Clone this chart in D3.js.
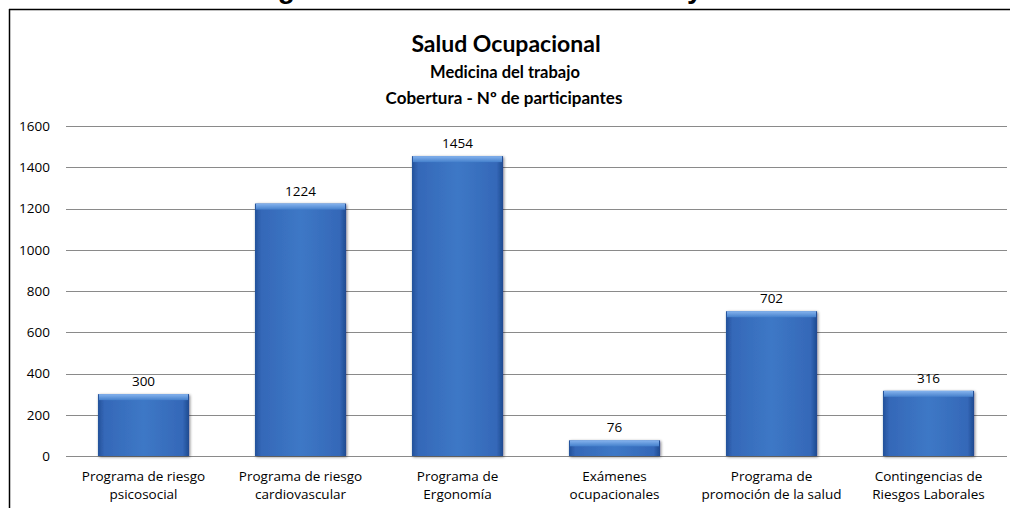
<!DOCTYPE html>
<html>
<head>
    <meta charset="utf-8"/>
    <style>
        body{ margin:0; background:#fff; }
        text{ fill:#000; }
        .tick-label, .val-label, .cat-label{
            font-family: "Open Sans", sans-serif;
            font-size: 13.5px;
        }
        .title{
            font-family: Lato, "Open Sans", sans-serif;
            font-weight: bold;
        }
        .grid line{ stroke:#8a8a8a; stroke-width:1.2; }
    </style>
</head>
<body>
<svg id="graph"></svg>

<script src="https://d3js.org/d3.v7.min.js"></script>
<script>
    // data
    const categories = [
        ['Programa de riesgo', 'psicosocial'],
        ['Programa de riesgo', 'cardiovascular'],
        ['Programa de', 'Ergonomía'],
        ['Exámenes', 'ocupacionales'],
        ['Programa de', 'promoción de la salud'],
        ['Contingencias de', 'Riesgos Laborales']
    ];
    const values = [300, 1224, 1454, 76, 702, 316];
    const yTicks = [0, 200, 400, 600, 800, 1000, 1200, 1400, 1600];

    var width = 1010, height = 508;
    var plotLeft = 65, plotRight = 1007, plotTop = 126, plotBottom = 456;

    var svg = d3.select('#graph')
        .attr('width', width)
        .attr('height', height);

    // gradients for the bevelled bars
    var defs = svg.append('defs');
    var hg = defs.append('linearGradient').attr('id', 'barH')
        .attr('x1', '0').attr('x2', '1').attr('y1', '0').attr('y2', '0');
    hg.append('stop').attr('offset', '0').attr('stop-color', '#23519a');
    hg.append('stop').attr('offset', '0.07').attr('stop-color', '#3568b8');
    hg.append('stop').attr('offset', '0.5').attr('stop-color', '#3d78c6');
    hg.append('stop').attr('offset', '0.93').attr('stop-color', '#3568b8');
    hg.append('stop').attr('offset', '1').attr('stop-color', '#1f4a90');
    var tg = defs.append('linearGradient').attr('id', 'barTop')
        .attr('x1', '0').attr('x2', '0').attr('y1', '0').attr('y2', '1');
    tg.append('stop').attr('offset', '0').attr('stop-color', '#86b4ee');
    tg.append('stop').attr('offset', '1').attr('stop-color', '#4580cc');
    var sh = defs.append('filter').attr('id', 'shadow')
        .attr('x', '-20%').attr('y', '-20%').attr('width', '140%').attr('height', '140%');
    sh.append('feGaussianBlur').attr('in', 'SourceAlpha').attr('stdDeviation', 1.5).attr('result', 'b');
    sh.append('feOffset').attr('in', 'b').attr('dx', 1).attr('dy', 1).attr('result', 'o');
    sh.append('feComponentTransfer').attr('in', 'o').attr('result', 'o2')
        .append('feFuncA').attr('type', 'linear').attr('slope', 0.5);
    var merge = sh.append('feMerge');
    merge.append('feMergeNode').attr('in', 'o2');
    merge.append('feMergeNode').attr('in', 'SourceGraphic');

    // heading above the chart frame, cut off by the page top as in the picture
    svg.append('text')
        .attr('class', 'title')
        .attr('x', 231).attr('y', -2)
        .style('font-family', '"Liberation Sans", Arial, sans-serif')
        .style('font-size', '28px')
        .text('Programa de Medicina Preventiva y Laboral');

    // frame (only top and left visible)
    svg.append('line').attr('x1', 9).attr('x2', width).attr('y1', 9.5).attr('y2', 9.5)
        .attr('stroke', '#000').attr('stroke-width', 1.5);
    svg.append('line').attr('x1', 9.5).attr('x2', 9.5).attr('y1', 9).attr('y2', height)
        .attr('stroke', '#000').attr('stroke-width', 1.5);

    // titles
    function title(txt, cx, y, size){
        svg.append('text').attr('class', 'title')
            .attr('x', cx).attr('y', y)
            .attr('text-anchor', 'middle')
            .style('font-size', size + 'px')
            .text(txt);
    }
    title('Salud Ocupacional', 506, 52, 23);
    title('Medicina del trabajo', 505, 78, 16.5);
    title('Cobertura - Nº de participantes', 504, 104, 17);

    var y = d3.scaleLinear().domain([0, 1600]).range([plotBottom, plotTop]);
    var x = d3.scaleBand()
        .domain(d3.range(values.length))
        .range([plotLeft, plotRight])
        .paddingInner(0.42)
        .paddingOuter(0.21);

    // gridlines
    svg.append('g').attr('class', 'grid')
        .selectAll('line')
        .data(yTicks)
        .enter().append('line')
        .attr('x1', plotLeft + 1).attr('x2', plotRight)
        .attr('y1', function(d){ return Math.round(y(d)) + 0.5; })
        .attr('y2', function(d){ return Math.round(y(d)) + 0.5; });

    // y tick labels
    svg.append('g').selectAll('text')
        .data(yTicks)
        .enter().append('text')
        .attr('class', 'tick-label')
        .attr('x', 50)
        .attr('y', function(d){ return y(d); })
        .attr('dy', '0.36em')
        .attr('text-anchor', 'end')
        .text(function(d){ return d; });

    // bars
    var bars = svg.append('g');
    var bar = bars.selectAll('g')
        .data(values)
        .enter().append('g')
        .attr('filter', 'url(#shadow)');
    bar.append('rect')
        .attr('x', function(d, i){ return x(i); })
        .attr('y', function(d){ return y(d); })
        .attr('width', x.bandwidth())
        .attr('height', function(d){ return plotBottom - y(d); })
        .attr('fill', 'url(#barH)');
    bar.append('rect')
        .attr('x', function(d, i){ return x(i) + 1; })
        .attr('y', function(d){ return y(d); })
        .attr('width', x.bandwidth() - 2)
        .attr('height', function(d){ return Math.min(6, plotBottom - y(d)); })
        .attr('fill', 'url(#barTop)');

    // value labels
    svg.append('g').selectAll('text')
        .data(values)
        .enter().append('text')
        .attr('class', 'val-label')
        .attr('x', function(d, i){ return x(i) + x.bandwidth() / 2; })
        .attr('y', function(d){ return y(d) - 8; })
        .attr('text-anchor', 'middle')
        .text(function(d){ return d; });

    // category labels, two lines each
    var cats = svg.append('g').selectAll('text')
        .data(categories)
        .enter().append('text')
        .attr('class', 'cat-label')
        .attr('text-anchor', 'middle')
        .attr('x', function(d, i){ return x(i) + x.bandwidth() / 2; })
        .attr('y', plotBottom + 25);
    cats.selectAll('tspan')
        .data(function(d){ return d; })
        .enter().append('tspan')
        .attr('x', function(){ return this.parentNode.getAttribute('x'); })
        .attr('dy', function(d, j){ return j === 0 ? 0 : 18; })
        .text(function(d){ return d; });
</script>
</body>
</html>
